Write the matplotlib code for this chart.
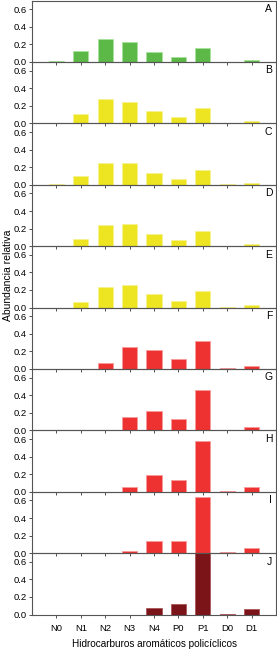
import matplotlib
matplotlib.use('Agg')
import matplotlib.pyplot as plt
import numpy as np

plt.rcParams['font.family'] = ['Liberation Sans', 'DejaVu Sans']

categories = ['N0', 'N1', 'N2', 'N3', 'N4', 'P0', 'P1', 'D0', 'D1']
panel_labels = ['A', 'B', 'C', 'D', 'E', 'F', 'G', 'H', 'I', 'J']

# relative abundance per sample
A = [0.010, 0.125, 0.264, 0.226, 0.117, 0.060, 0.158, 0.003, 0.020]
B = [0.005, 0.104, 0.273, 0.246, 0.135, 0.073, 0.169, 0.003, 0.027]
C = [0.005, 0.094, 0.249, 0.249, 0.132, 0.068, 0.170, 0.005, 0.023]
D = [0.002, 0.081, 0.240, 0.252, 0.137, 0.074, 0.174, 0.004, 0.026]
E = [0.000, 0.068, 0.234, 0.260, 0.151, 0.079, 0.192, 0.005, 0.023]
F = [0.000, 0.000, 0.068, 0.245, 0.215, 0.117, 0.320, 0.007, 0.034]
G = [0.000, 0.000, 0.000, 0.150, 0.223, 0.127, 0.465, 0.007, 0.042]
H = [0.000, 0.000, 0.000, 0.057, 0.189, 0.132, 0.577, 0.007, 0.057]
I = [0.000, 0.000, 0.000, 0.019, 0.140, 0.136, 0.645, 0.007, 0.053]
J = [0.000, 0.000, 0.000, 0.000, 0.075, 0.125, 0.800, 0.005, 0.068]
samples = [A, B, C, D, E, F, G, H, I, J]

green, yellow, red, dark = '#5cb947', '#ede521', '#ee3131', '#7b1418'
edges = {green: '#a8e39a', yellow: '#f6f290', red: '#f79a9a', dark: '#a85558'}
colors = [green, yellow, yellow, yellow, yellow, red, red, red, red, dark]

fig = plt.figure(figsize=(2.77, 6.5), dpi=100)
left, right = 32 / 277, 276 / 277
top_px, h_px = 0.5, 61.4
x = np.arange(len(categories))

for i, (vals, lab, col) in enumerate(zip(samples, panel_labels, colors)):
    y0 = top_px + (i + 1) * h_px
    ax = fig.add_axes([left, 1 - y0 / 650, right - left, h_px / 650])
    ax.bar(x, vals, width=0.62, color=col, edgecolor=edges[col], linewidth=0.6, zorder=1)
    ax.set_xlim(-1, 9)
    ax.set_ylim(0, 0.7)
    ax.set_yticks([0.0, 0.2, 0.4, 0.6])
    ax.set_yticklabels(['0.0', '0.2', '0.4', '0.6'])
    ax.set_xticks(x)
    ax.tick_params(axis='both', direction='out', length=2.5, width=0.6,
                   labelsize=6.8, pad=1.5, colors='#333333', labelcolor='black')
    if i < 9:
        ax.set_xticklabels([])
    else:
        ax.set_xticklabels(categories)
        ax.tick_params(axis='x', pad=4.5)
        ax.set_xlabel('Hidrocarburos aromáticos policíclicos', fontsize=7.2, labelpad=4)
    for s in ax.spines.values():
        s.set_linewidth(0.8)
        s.set_color('#555555')
        s.set_zorder(3)
    ax.text(0.985, 0.86, lab, transform=ax.transAxes, ha='right', va='center', fontsize=7.5)
    ax.set_facecolor('none')

fig.text(0.03, 1 - 275 / 650, 'Abundancia relativa', rotation=90, ha='center', va='center', fontsize=7.5)

fig.savefig('out.png', dpi=100)
